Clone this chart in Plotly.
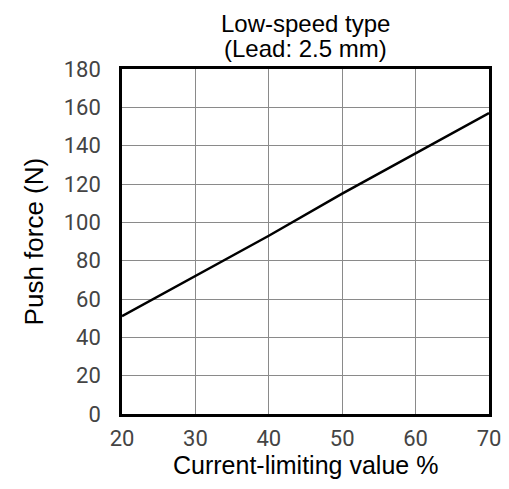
import plotly.graph_objects as go

current_pct = [20, 30, 40, 50, 60, 70]
push_force = [51, 72, 93, 115, 136, 157]
x_ticks = [20, 30, 40, 50, 60, 70]
y_ticks = [0, 20, 40, 60, 80, 100, 120, 140, 160, 180]

fig = go.Figure()
fig.add_trace(go.Scatter(x=current_pct, y=push_force, mode="lines",
                         line=dict(color="black", width=2.5), showlegend=False))

title_font = dict(family="Liberation Sans, Arial, sans-serif", size=24, color="black")
xtitle_font = dict(family="Liberation Sans, Arial, sans-serif", size=25, color="black")
ytitle_font = dict(family="Liberation Sans, Arial, sans-serif", size=26, color="black")
tick_font = dict(family="Roboto, Liberation Sans, sans-serif", size=22, color="#444")

fig.update_layout(
    width=501, height=481,
    margin=dict(l=114, r=8, t=61, b=75),
    paper_bgcolor="white", plot_bgcolor="white",
    font=dict(family="Liberation Sans, Arial, sans-serif", color="black"),
    annotations=[
        dict(text="Low-speed type", xref="paper", yref="paper", x=0.5, y=1.133,
             xanchor="center", yanchor="middle", showarrow=False, font=title_font),
        dict(text="(Lead: 2.5 mm)", xref="paper", yref="paper", x=0.5, y=1.058,
             xanchor="center", yanchor="middle", showarrow=False, font=title_font),
        dict(text="Current-limiting value %", xref="paper", yref="paper", x=0.5, y=-0.148,
             xanchor="center", yanchor="middle", showarrow=False, font=xtitle_font),
        dict(text="Push force (N)", xref="paper", yref="paper", x=-0.24, y=0.5, textangle=-90,
             xanchor="center", yanchor="middle", showarrow=False, font=ytitle_font),
    ],
)
fig.update_xaxes(range=[20, 70], tickvals=x_ticks, showgrid=True, gridcolor="#8a8a8a", gridwidth=1.4,
                 showline=True, linecolor="black", linewidth=2.5, mirror=True,
                 ticks="", zeroline=False, tickfont=tick_font, ticklabelstandoff=3,
                 ticklabeloverflow="allow")
fig.update_yaxes(range=[0, 180], tickvals=y_ticks, showgrid=True, gridcolor="#8a8a8a", gridwidth=1.4,
                 showline=True, linecolor="black", linewidth=2.5, mirror=True,
                 ticks="", zeroline=False, tickfont=tick_font, ticklabelstandoff=14)
fig.write_html("out.html")
